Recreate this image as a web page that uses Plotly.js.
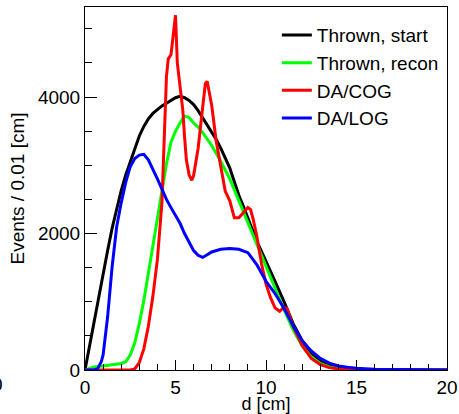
<!DOCTYPE html>
<html><head><meta charset="utf-8">
<script src="https://cdn.plot.ly/plotly-3.0.1.min.js"></script>
<style>html,body{margin:0;padding:0;background:#fff;}#plot{width:459px;height:414px;}</style>
</head><body><div id="plot"></div>
<script>
// Series: d [cm] and events per 0.01 cm
const seriesNames = ["Thrown, start", "Thrown, recon", "DA/COG", "DA/LOG"];
const seriesColors = ["#000000", "#00ff00", "#ff0000", "#0000ff"];

const blackX = [0,0.25,0.5,0.75,1,1.25,1.5,1.75,2,2.25,2.5,2.75,3,3.25,3.5,3.75,4,4.25,4.5,4.75,5,5.25,5.5,5.75,6,6.25,6.5,6.75,7,7.25,7.5,7.75,8,8.25,8.5,8.75,9,9.25,9.5,9.75,10,10.5,11,11.5,12,12.5,13,13.5,14,14.5,15,16,17,18,19,20];
const blackY = [0,360,720,1070,1420,1750,2080,2380,2630,2860,3060,3260,3430,3570,3680,3760,3820,3870,3910,3950,3990,4010,3990,3950,3890,3800,3700,3600,3500,3380,3250,3110,2960,2760,2560,2400,2230,2060,1880,1740,1600,1300,1000,680,430,250,140,70,35,15,8,3,1,0,0,0];

const greenX = [0,0.25,0.5,1,1.5,2,2.25,2.5,2.75,3,3.25,3.5,3.75,4,4.25,4.5,4.75,5,5.25,5.5,5.75,6,6.25,6.5,7,7.5,8,8.5,9,9.5,10,10.5,11,11.5,12,12.5,13,13.5,14,14.5,15,16,17,20];
const greenY = [0,20,45,60,75,95,120,220,400,680,1020,1420,1850,2250,2600,3020,3340,3500,3620,3720,3700,3620,3560,3480,3290,3060,2800,2480,2170,1850,1510,1190,880,590,350,190,95,45,20,8,3,1,0,0];

const redX = [0,2.5,2.75,3,3.25,3.5,3.75,4,4.25,4.4,4.5,4.6,4.75,4.85,5,5.1,5.25,5.4,5.5,5.6,5.75,5.9,6,6.25,6.5,6.65,6.75,6.9,7,7.25,7.5,7.75,8,8.25,8.5,8.75,9,9.15,9.3,9.5,9.75,10,10.25,10.5,10.75,11,11.15,11.5,12,12.5,13,13.5,14,15,20];
const redY = [0,0,15,110,310,640,1080,1620,2450,3500,4300,4560,4620,4850,5200,4500,4180,3820,3420,3080,2860,2780,2850,3250,3850,4200,4230,4050,3880,3350,2970,2620,2480,2230,2230,2300,2380,2350,2200,1950,1560,1260,1060,910,860,920,900,640,360,170,80,35,15,5,0];

const blueX = [0,0.5,0.7,0.9,1,1.25,1.5,1.75,2,2.25,2.5,2.75,3,3.25,3.5,3.75,4,4.25,4.5,4.75,5,5.25,5.5,5.75,6,6.25,6.5,6.75,7,7.5,8,8.5,9,9.5,10,10.5,11,11.5,12,12.5,13,13.5,14,14.5,15,16,17,18,20];
const blueY = [0,0,20,120,220,780,1520,2100,2450,2750,2980,3100,3150,3160,3080,2950,2800,2650,2500,2380,2270,2150,2000,1870,1750,1680,1650,1690,1730,1770,1780,1770,1720,1540,1300,1120,900,650,430,280,170,100,60,40,25,10,5,2,1];

const xs = [blackX, greenX, redX, blueX];
const ys = [blackY, greenY, redY, blueY];

const traces = xs.map((x, i) => ({
  x: x, y: ys[i], type: 'scatter', mode: 'lines', name: seriesNames[i],
  line: {color: seriesColors[i], width: 3}
}));

const font = {family: 'Liberation Sans, Arial, sans-serif', color: '#000'};

const layout = {
  width: 459, height: 414,
  margin: {l: 85, r: 12, t: 7, b: 44},
  paper_bgcolor: '#fff', plot_bgcolor: '#fff',
  font: Object.assign({size: 19}, font),
  showlegend: true,
  legend: {x: 0.53, y: 0.975, xanchor: 'left', yanchor: 'top', bgcolor: 'rgba(0,0,0,0)',
           borderwidth: 0, font: Object.assign({size: 19}, font), itemwidth: 30, tracegroupgap: 0},
  xaxis: {range: [0, 20], dtick: 5, tick0: 0, ticks: 'inside', ticklen: 10, tickcolor: '#000',
          showline: true, linecolor: '#000', linewidth: 1, mirror: true, showgrid: false, zeroline: false,
          minor: {dtick: 1, ticks: 'inside', ticklen: 6, tickcolor: '#000'},
          tickfont: Object.assign({size: 19}, font),
          title: {text: 'd [cm]', font: Object.assign({size: 18}, font), standoff: 4}},
  yaxis: {range: [0, 5320], dtick: 2000, tick0: 0, ticks: 'inside', ticklen: 12, tickcolor: '#000',
          showline: true, linecolor: '#000', linewidth: 1, mirror: true, showgrid: false, zeroline: false,
          minor: {dtick: 500, ticks: 'inside', ticklen: 7, tickcolor: '#000'},
          tickfont: Object.assign({size: 19}, font),
          title: {text: 'Events / 0.01 [cm]', font: Object.assign({size: 19}, font), standoff: 8}},
  annotations: [{text: '0', xref: 'paper', yref: 'paper', x: (-3 - 85) / 362, y: (370 - 384) / 363,
                 xanchor: 'center', yanchor: 'middle', showarrow: false, font: Object.assign({size: 19}, font)}]
};

Plotly.newPlot('plot', traces, layout, {displayModeBar: false, staticPlot: true});
</script></body></html>
